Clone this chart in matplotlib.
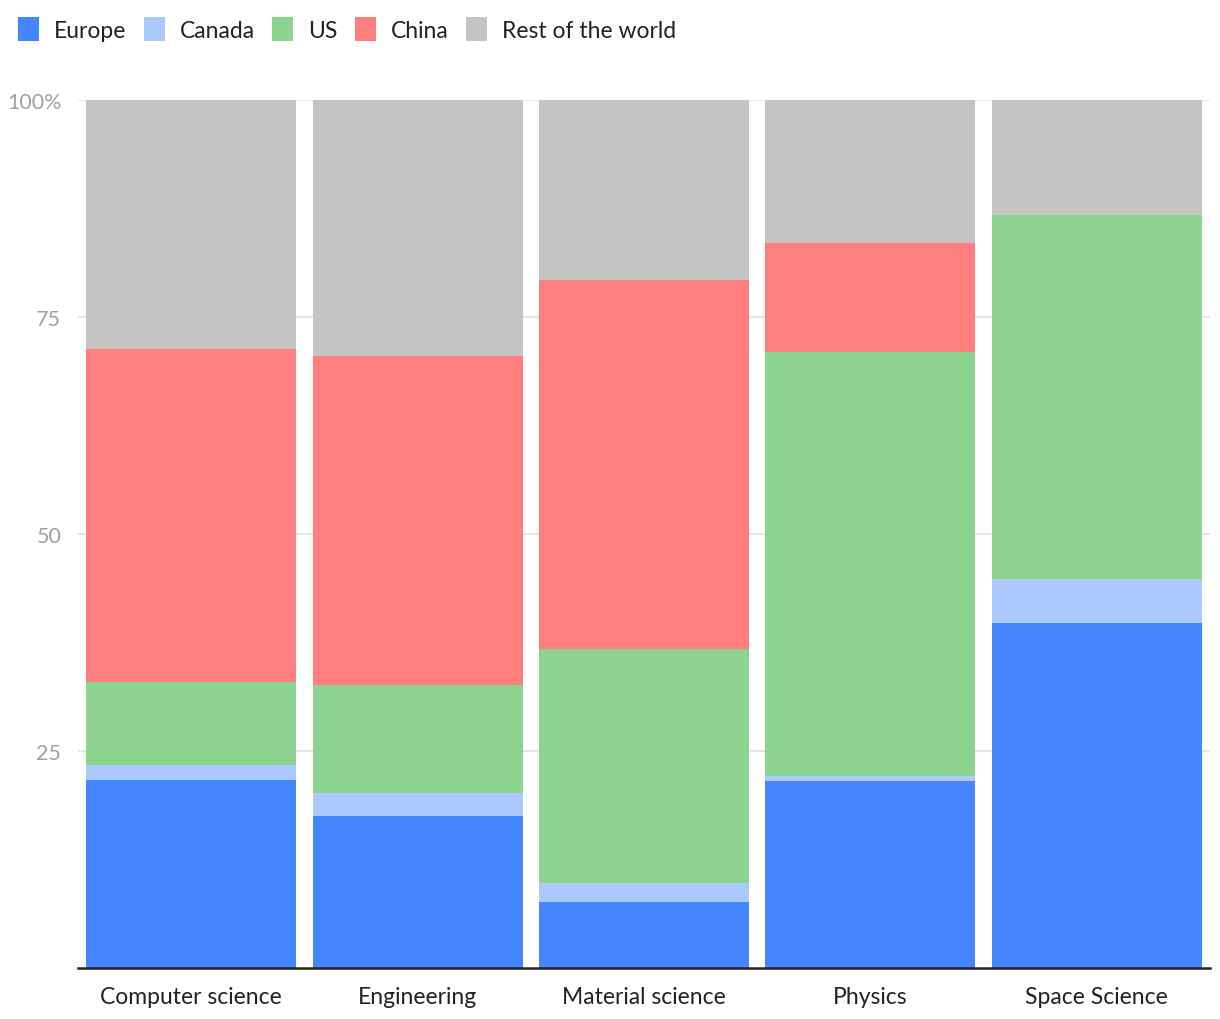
import matplotlib.pyplot as plt
import numpy as np

# data (percent share by region)
fields = ["Computer science", "Engineering", "Material science", "Physics", "Space Science"]
europe = [21.7, 17.5, 7.6, 21.5, 39.7]
canada = [1.7, 2.7, 2.2, 0.6, 5.1]
us = [9.5, 12.4, 27.0, 48.9, 42.0]
china = [38.4, 37.9, 42.5, 12.5, 0.0]
rest = [28.7, 29.5, 20.7, 16.5, 13.2]

series = [("Europe", europe, "#4386FF"),
          ("Canada", canada, "#ABC8FF"),
          ("US", us, "#8DD390"),
          ("China", china, "#FF7F7E"),
          ("Rest of the world", rest, "#C4C4C4")]

plt.rcParams['font.family'] = ['Lato', 'DejaVu Sans']

fig = plt.figure(figsize=(12.2, 10.2), dpi=100)
ax = fig.add_axes([78 / 1220, 51 / 1020, 1132 / 1220, 868 / 1020])

x = np.arange(len(fields))
bottom = np.zeros(len(fields))
for name, vals, col in series:
    ax.bar(x, vals, bottom=bottom, width=0.927, color=col, label=name, zorder=2)
    bottom += np.array(vals)

ax.set_xlim(-0.5, 4.5)
ax.set_ylim(0, 100)
ax.set_yticks([25, 50, 75, 100])
ax.set_yticklabels(["25", "50", "75", "100%"])
ax.yaxis.grid(True, color="#E2E2E2", linewidth=1.2, zorder=0)
ax.tick_params(axis="y", length=0, pad=12, labelsize=15.5, labelcolor="#A0A0A0")
ax.set_xticks(x)
ax.set_xticklabels(fields)
ax.tick_params(axis="x", length=0, pad=13, labelsize=16.5, labelcolor="#222222")
for s in ["top", "right", "left"]:
    ax.spines[s].set_visible(False)
ax.spines["bottom"].set_color("#222222")
ax.spines["bottom"].set_linewidth(1.8)

fig.legend(loc="upper left", bbox_to_anchor=(0.0, 1.0), ncol=5, frameon=False,
           fontsize=16.5, handlelength=0.92, handleheight=1.22, handletextpad=0.65,
           columnspacing=0.75, borderaxespad=0.4, labelcolor="#222222")

fig.savefig("out.png", dpi=100)
